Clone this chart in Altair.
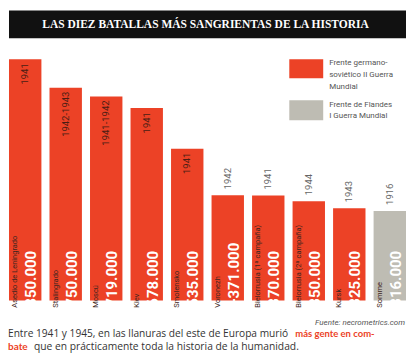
import altair as alt
import pandas as pd

# ---- data ----
battles = ["Asedio de Leningrado", "Stalingrado", "Moscú", "Kiev", "Smolensko",
           "Voronezh", "Bielorrusia (1ª campaña)", "Bielorrusia (2ª campaña)", "Kursk", "Somme"]
deaths = [850000, 750000, 719000, 678000, 535000, 371000, 370000, 350000, 325000, 316000]
death_labels = ["850.000", "750.000", "719.000", "678.000", "535.000",
                "+371.000", "370.000", "350.000", "325.000", "316.000"]
years = ["1941", "1942-1943", "1941-1942", "1941", "1941", "1942", "1941", "1944", "1943", "1916"]
front_ww2 = "Frente germano-soviético II Guerra Mundial"
front_ww1 = "Frente de Flandes I Guerra Mundial"
fronts = [front_ww2] * 9 + [front_ww1]

title = "LAS DIEZ BATALLAS MÁS SANGRIENTAS DE LA HISTORIA"
legend_ww2 = "Frente germano-|soviético II Guerra|Mundial"
legend_ww1 = "Frente de Flandes|I Guerra Mundial"
source = "Fuente: necrometrics.com"
foot1a = "Entre 1941 y 1945, en las llanuras del este de Europa murió"
foot1b = "más gente en com-"
foot2a = "bate"
foot2b = "que en prácticamente toda la historia de la humanidad."

RED = "#EC4226"
GRAY = "#BEBCB3"
W, H = 398, 305
SANS = "Roboto, Lato, sans-serif"

df = pd.DataFrame({"battle": battles, "deaths": deaths, "label": death_labels,
                   "year": years, "front": fronts})

xenc = alt.X("battle:N", sort=battles, axis=None,
             scale=alt.Scale(paddingInner=0.2, paddingOuter=0))
yscale = alt.Scale(domain=[-42500, 1029000], zero=False, nice=False)
yenc = alt.Y("deaths:Q", scale=yscale, axis=None)
color = alt.Color("front:N", legend=None,
                  scale=alt.Scale(domain=[front_ww2, front_ww1], range=[RED, GRAY]))

base = alt.Chart(df).encode(x=xenc)

bars = base.mark_bar().encode(y=yenc, y2=alt.value(H), color=color)

yr_in = base.transform_filter("datum.deaths > 500000").mark_text(
    angle=270, align="right", baseline="middle", dx=-4, fontSize=9.5,
    font=SANS, color="#4a1d14").encode(y=yenc, text="year:N")
yr_out = base.transform_filter("datum.deaths <= 500000").mark_text(
    angle=270, align="left", baseline="middle", dx=6, fontSize=9.5,
    font=SANS, color="#666666").encode(y=yenc, text="year:N")

names = base.mark_text(angle=270, align="left", baseline="middle", dy=-10,
                       fontSize=7.5, font=SANS, color="#3d2520").encode(
    y=alt.value(H - 5), text="battle:N")
vals = base.mark_text(angle=270, align="left", baseline="middle", dy=6,
                      fontSize=15, font=SANS, fontWeight="bold", color="white").encode(
    y=alt.value(H - 6), text="label:N")

one = pd.DataFrame({"k": [0]})
tbar = alt.Chart(one).mark_rect(color="#111111").encode(
    x=alt.value(0), x2=alt.value(W), y=alt.value(2), y2=alt.value(30))
ttext = alt.Chart(one).mark_text(font="Liberation Serif", fontWeight="bold", fontSize=11.5,
                                 color="white", align="center", baseline="alphabetic").encode(
    x=alt.value(W / 2 - 2), y=alt.value(20), text=alt.value(title))

leg1 = alt.Chart(one).mark_rect(color=RED).encode(
    x=alt.value(281), x2=alt.value(315), y=alt.value(51), y2=alt.value(70))
leg2 = alt.Chart(one).mark_rect(color=GRAY).encode(
    x=alt.value(281), x2=alt.value(315), y=alt.value(92), y2=alt.value(112))
legt1 = alt.Chart(one).mark_text(font=SANS, fontSize=8, color="#555555",
                                 align="left", baseline="middle", lineBreak="|", lineHeight=12).encode(
    x=alt.value(321), y=alt.value(55), text=alt.value(legend_ww2))
legt2 = alt.Chart(one).mark_text(font=SANS, fontSize=8, color="#555555",
                                 align="left", baseline="middle", lineBreak="|", lineHeight=11).encode(
    x=alt.value(321), y=alt.value(97), text=alt.value(legend_ww1))

src = alt.Chart(one).mark_text(font=SANS, fontStyle="italic", fontSize=8, color="#555555",
                               align="right", baseline="alphabetic").encode(
    x=alt.value(397), y=alt.value(317), text=alt.value(source))

def ftxt(txt, xpos, ypos, col, font, size, bold=False):
    return alt.Chart(one).mark_text(font=font, fontSize=size, color=col,
                                    fontWeight="bold" if bold else "normal",
                                    align="left", baseline="alphabetic").encode(
        x=alt.value(xpos), y=alt.value(ypos), text=alt.value(txt))

f1 = ftxt(foot1a, -1, 329, "#333333", "Open Sans", 10.2)
f2 = ftxt(foot1b, 287, 329, RED, "Lato", 9.5, True)
f3 = ftxt(foot2a, -1, 342, RED, "Lato", 10, True)
f4 = ftxt(foot2b, 25, 342, "#333333", "Open Sans", 10.3)

chart = alt.layer(bars, yr_in, yr_out, names, vals, tbar, ttext, leg1, leg2, legt1, legt2,
                  src, f1, f2, f3, f4).properties(width=W, height=H).configure_view(
    stroke=None).properties(padding=0, background="white")

chart.save("out.html", embed_options={"renderer": "svg", "actions": False})
